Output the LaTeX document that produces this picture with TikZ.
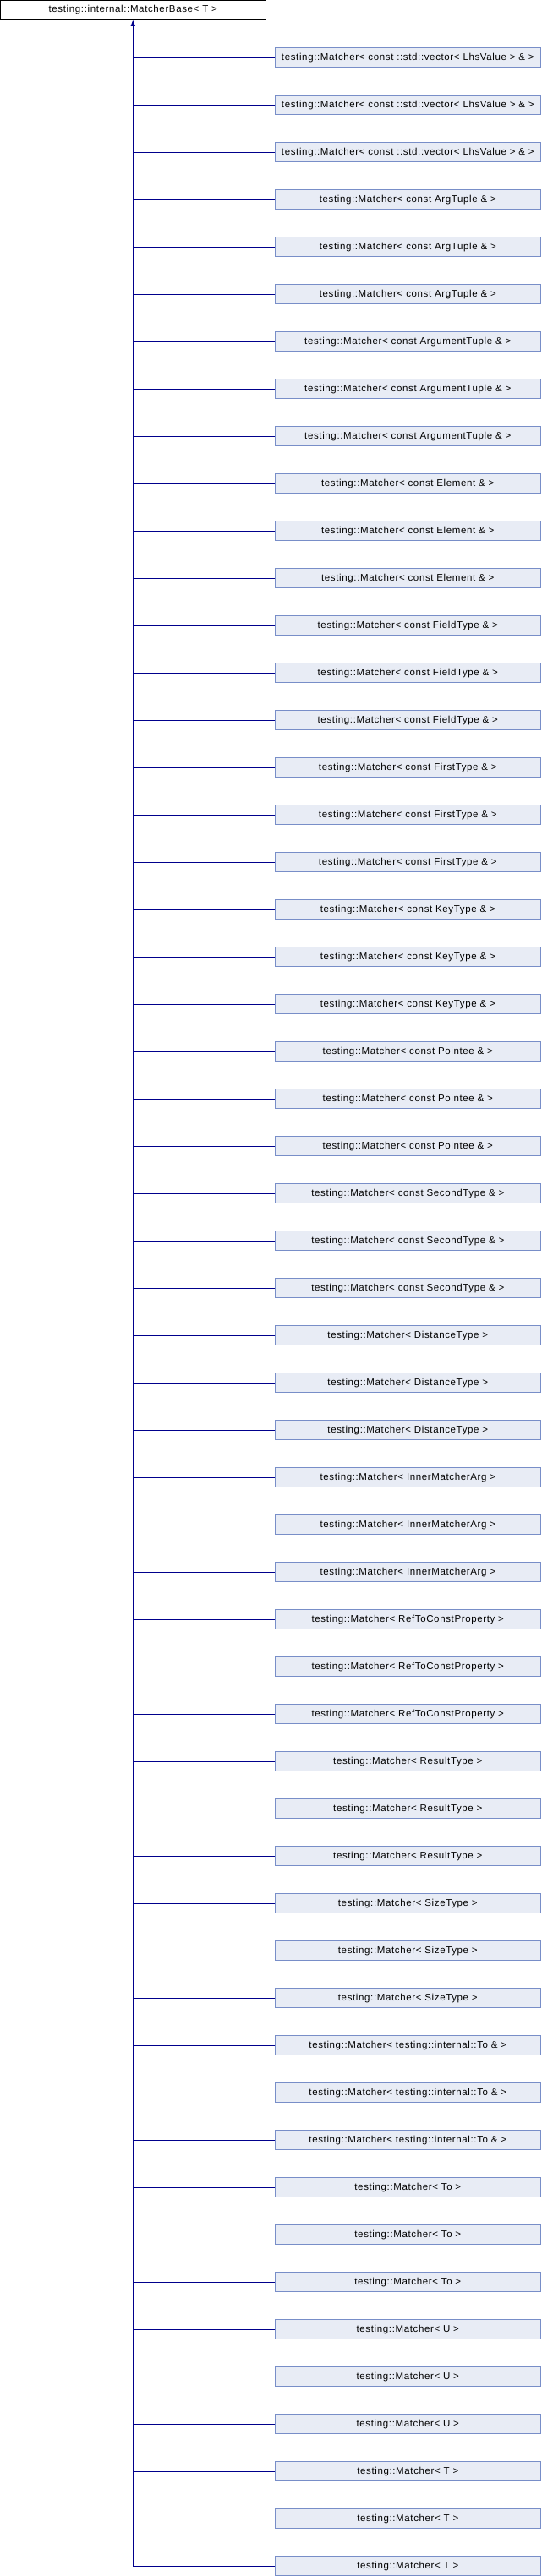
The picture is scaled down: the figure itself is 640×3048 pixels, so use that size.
\documentclass[tikz,border=0pt]{standalone}
\usepackage{fontspec}
\setmainfont{Liberation Sans}[LetterSpace=5.5]
\usetikzlibrary{arrows.meta}
\definecolor{boxfill}{RGB}{232,236,245}
\definecolor{boxline}{RGB}{120,142,200}
\definecolor{edgecol}{RGB}{0,0,140}
\tikzset{
  basebox/.style={draw=black, fill=white, line width=1pt, minimum width=313.5pt, minimum height=22.8pt, inner sep=0pt, font=\fontsize{11.5}{13}\selectfont},
  childbox/.style={draw=boxline, fill=boxfill, line width=1pt, minimum width=314pt, minimum height=23pt, inner sep=0pt, font=\fontsize{11.5}{13}\selectfont},
  edge/.style={draw=edgecol, line width=1.3pt},
  inherit/.style={edge, {Triangle[width=5pt,length=7pt]}-}
}
\begin{document}
\begin{tikzpicture}[x=1pt,y=1pt]
\useasboundingbox (0,0) rectangle (640,-3048);
\node[basebox] (base) at (157.25,-11.9) {testing::internal::MatcherBase< T >};
\foreach \lab [count=\i from 0] in {%
 {const ::std::vector< LhsValue > \& },
 {const ArgTuple \& },
 {const ArgumentTuple \& },
 {const Element \& },
 {const FieldType \& },
 {const FirstType \& },
 {const KeyType \& },
 {const Pointee \& },
 {const SecondType \& },
 {DistanceType },
 {InnerMatcherArg },
 {RefToConstProperty },
 {ResultType },
 {SizeType },
 {testing::internal::To \& },
 {To },
 {U },
 {T }}{
  \foreach \j in {0,1,2}{
    \pgfmathtruncatemacro{\k}{3*\i+\j+1}
    \pgfmathsetmacro{\yy}{-68.3-56*(\k-1)}
    \node[childbox] (c\k) at (482.3,\yy) {testing::Matcher< \lab>};
    \draw[edge] (c\k.west) -- (c\k.west -| base.south);
  }
}
\draw[inherit] (base.south) -- (c54.west -| base.south);
\end{tikzpicture}
\end{document}
